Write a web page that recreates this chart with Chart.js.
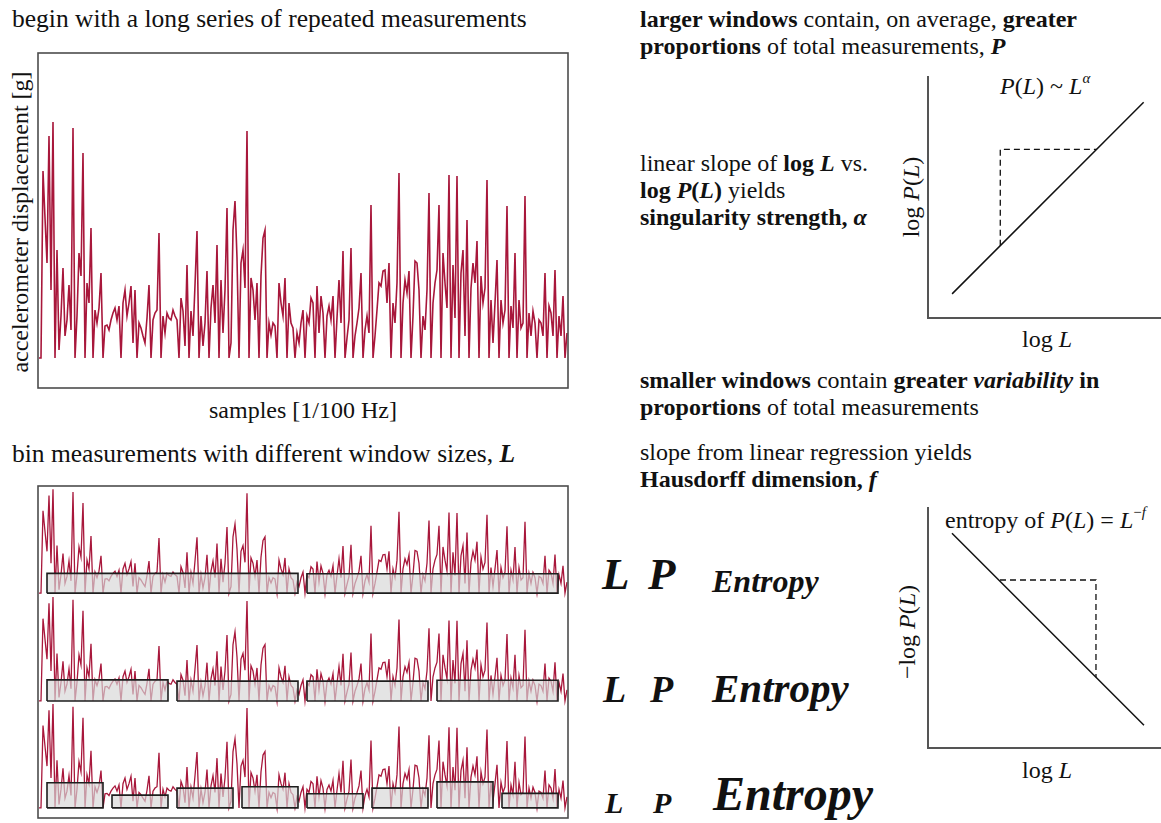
<!DOCTYPE html>
<html>
<head>
<meta charset="utf-8">
<script src="https://cdn.jsdelivr.net/npm/chart.js@4.4.1/dist/chart.umd.min.js"></script>
<style>
  html, body { margin: 0; padding: 0; background: #fff; }
  #page { position: relative; width: 1161px; height: 823px; overflow: hidden;
          font-family: "Liberation Serif", "Times New Roman", serif; color: #111; }
  .txt { position: absolute; font-size: 24px; line-height: 27px; white-space: nowrap; }
  .head { font-size: 25.5px; }
  .rot { position: absolute; font-size: 24px; line-height: 27px; white-space: nowrap;
         transform: translate(-50%, -50%) rotate(-90deg); }
  .big { position: absolute; font-weight: bold; font-style: italic; line-height: 1; white-space: nowrap; }
  canvas { position: absolute; }
  sup { font-size: 0.62em; line-height: 0; vertical-align: 0.75em; }
</style>
</head>
<body>
<div id="page">
  <div class="txt head" style="left:12px; top:5px">begin with a long series of repeated measurements</div>
  <div class="rot" style="left:20px; top:222px">accelerometer displacement [g]</div>
  <div class="txt" style="left:303px; top:397px; transform:translateX(-50%)">samples [1/100 Hz]</div>
  <div class="txt head" style="left:12px; top:440px">bin measurements with different window sizes, <b><i>L</i></b></div>

  <div class="txt" style="left:640px; top:6px"><b>larger windows</b> contain, on average, <b>greater</b><br><b>proportions</b> of total measurements, <b><i>P</i></b></div>
  <div class="txt" style="left:640px; top:150px">linear slope of <b>log <i>L</i></b> vs.<br><b>log <i>P</i>(<i>L</i>)</b> yields<br><b>singularity strength, <i>α</i></b></div>
  <div class="txt" style="left:640px; top:367px"><b>smaller windows</b> contain <b>greater <i>variability</i> in</b><br><b>proportions</b> of total measurements</div>
  <div class="txt" style="left:640px; top:439px">slope from linear regression yields<br><b>Hausdorff dimension, <i>f</i></b></div>

  <div class="txt" style="left:1000px; top:73px"><i>P</i>(<i>L</i>) ~ <i>L</i><sup><i>α</i></sup></div>
  <div class="rot" style="left:911px; top:197px">log <i>P</i>(<i>L</i>)</div>
  <div class="txt" style="left:1047px; top:326px; transform:translateX(-50%)">log <i>L</i></div>

  <div class="txt" style="left:945px; top:507px">entropy of <i>P</i>(<i>L</i>) = <i>L</i><sup>−<i>f</i></sup></div>
  <div class="rot" style="left:907px; top:632px">−log <i>P</i>(<i>L</i>)</div>
  <div class="txt" style="left:1047px; top:757px; transform:translateX(-50%)">log <i>L</i></div>

  <div class="big" style="left:602px; top:552px; font-size:45px">L</div>
  <div class="big" style="left:648px; top:552px; font-size:45px">P</div>
  <div class="big" style="left:712px; top:565px; font-size:32px">Entropy</div>
  <div class="big" style="left:603px; top:670px; font-size:38px">L</div>
  <div class="big" style="left:650px; top:670px; font-size:38px">P</div>
  <div class="big" style="left:712px; top:668px; font-size:41px">Entropy</div>
  <div class="big" style="left:605px; top:788px; font-size:30px">L</div>
  <div class="big" style="left:653px; top:788px; font-size:30px">P</div>
  <div class="big" style="left:713px; top:770px; font-size:48px">Entropy</div>

  <canvas id="series" width="534" height="339" style="left:36px; top:51px"></canvas>
  <canvas id="bins" width="534" height="336" style="left:36px; top:484px"></canvas>
  <canvas id="alpha" width="235" height="245" style="left:926px; top:75px"></canvas>
  <canvas id="hausdorff" width="235" height="244" style="left:926px; top:506px"></canvas>
</div>

<script>
// accelerometer displacement, one value per sample (arbitrary units)
const displacement = [
  0, 0, 187, 140, 95, 222, 68, 236, 0, 108, 8, 42, 90, 22, 38, 73, 28, 230, 0, 42,
  105, 82, 205, 0, 75, 55, 130, 0, 48, 35, 50, 85, 0, 32, 33, 28, 38, 45, 50, 38,
  52, 0, 55, 68, 42, 55, 72, 15, 68, 0, 35, 30, 22, 15, 40, 73, 0, 38, 45, 48,
  125, 0, 42, 25, 45, 40, 38, 48, 42, 38, 0, 60, 47, 12, 93, 0, 47, 22, 73, 127,
  0, 42, 12, 35, 87, 0, 50, 73, 35, 113, 0, 78, 25, 68, 150, 0, 15, 128, 157, 100,
  0, 95, 108, 70, 227, 0, 80, 68, 38, 75, 0, 82, 120, 128, 0, 35, 23, 35, 32, 0,
  75, 55, 42, 80, 0, 55, 35, 30, 0, 25, 15, 35, 48, 0, 42, 35, 60, 55, 0, 72,
  25, 62, 45, 0, 42, 52, 38, 62, 0, 40, 78, 35, 107, 0, 20, 38, 110, 0, 22, 35,
  50, 85, 0, 28, 42, 25, 153, 0, 22, 48, 75, 72, 87, 88, 55, 95, 0, 55, 35, 75,
  185, 0, 55, 78, 65, 87, 0, 42, 97, 95, 68, 0, 42, 28, 68, 165, 0, 55, 75, 88,
  153, 0, 105, 75, 50, 183, 0, 93, 40, 182, 0, 85, 108, 22, 138, 0, 70, 95, 75, 117,
  0, 82, 55, 70, 178, 0, 58, 15, 55, 98, 0, 58, 35, 48, 152, 0, 52, 30, 105, 0,
  58, 30, 35, 162, 0, 45, 22, 47, 35, 0, 38, 35, 22, 85, 0, 52, 45, 22, 88, 0,
  42, 22, 62, 0, 25
];
const samples = displacement.map((v, i) => i);

// window sizes: number of windows per row and the proportion P of each window
const windowCounts = [2, 4, 8];
const windowP = [
  [45, 44],
  [48, 45, 45, 47],
  [57, 29, 45, 48, 32, 45, 59, 33]
];
const windowSpan = [4, 264];
const windowGap = 4.5;

// log-log sketches
const alphaLogL = [1, 8.95];
const alphaLogP = [1, 8.95];
const alphaStepL = [3, 3, 7];
const alphaStepP = [3, 7, 7];
const fLogL = [1, 9];
const fNegLogP = [8.95, 0.95];
const fStepL = [3, 7, 7];
const fStepP = [7, 7, 2.95];

const red = '#a8173b';
const pts = (xs, ys) => xs.map((x, i) => ({x: x, y: ys[i]}));

const frame = {
  id: 'frame',
  afterDraw(chart) {
    const {ctx, chartArea: a} = chart;
    ctx.save();
    ctx.strokeStyle = '#4d4d4d';
    ctx.lineWidth = 1.6;
    ctx.strokeRect(a.left, a.top, a.right - a.left, a.bottom - a.top);
    ctx.restore();
  }
};

const base = {
  animation: false,
  responsive: false,
  plugins: { legend: { display: false }, tooltip: { enabled: false } },
  elements: { point: { radius: 0 }, line: { tension: 0 } }
};

new Chart(document.getElementById('series'), {
  type: 'line',
  data: {
    datasets: [{
      data: pts(samples, displacement),
      borderColor: red,
      borderWidth: 1.6,
      fill: false
    }]
  },
  options: {
    ...base,
    layout: { padding: 2 },
    scales: {
      x: { type: 'linear', display: false, min: -0.5, max: 264.5 },
      y: { display: false, min: -30, max: 305 }
    }
  },
  plugins: [frame]
});

// three strips, each with its own y axis so the copies sit one above the other
const stripAxes = ['y1', 'y2', 'y3'];
const binSets = [];
stripAxes.forEach((ax, r) => {
  binSets.push({
    data: pts(samples, displacement),
    yAxisID: ax,
    borderColor: red,
    borderWidth: 1.3,
    fill: false,
    order: 1
  });
  const n = windowCounts[r];
  const w = (windowSpan[1] - windowSpan[0]) / n;
  windowP[r].forEach((p, k) => {
    const s = windowSpan[0] + k * w;
    const e = s + w - windowGap;
    binSets.push({
      data: pts([s, s, e, e, s], [0, p, p, 0, 0]),
      yAxisID: ax,
      borderColor: '#1e1e1e',
      borderWidth: 1.6,
      backgroundColor: 'rgba(215,215,215,0.68)',
      fill: 'shape',
      order: 0
    });
  });
});

new Chart(document.getElementById('bins'), {
  type: 'line',
  data: { datasets: binSets },
  options: {
    ...base,
    layout: { padding: 2 },
    scales: {
      x: { type: 'linear', display: false, min: -0.5, max: 264.5 },
      y1: { display: false, min: -511, max: 243.5 },
      y2: { display: false, min: -266, max: 488.5 },
      y3: { display: false, min: -23, max: 731.5 }
    }
  },
  plugins: [frame]
});

function slopeChart(id, lx, ly, sx, sy, xmax) {
  const axis = (min, max) => ({
    type: 'linear', min: min, max: max,
    ticks: { display: false },
    grid: { display: false, drawTicks: false },
    border: { display: true, color: '#555', width: 2 }
  });
  return new Chart(document.getElementById(id), {
    type: 'line',
    data: {
      datasets: [
        { data: pts(lx, ly), borderColor: '#111', borderWidth: 1.5, fill: false },
        { data: pts(sx, sy), borderColor: '#111', borderWidth: 1.3, borderDash: [6, 4], fill: false }
      ]
    },
    options: {
      ...base,
      layout: { padding: { left: 2, top: 2, right: 0, bottom: 2 } },
      scales: { x: axis(0, xmax), y: axis(0, 10) }
    }
  });
}

slopeChart('alpha', alphaLogL, alphaLogP, alphaStepL, alphaStepP, 9.67);
slopeChart('hausdorff', fLogL, fNegLogP, fStepL, fStepP, 9.71);
</script>
</body>
</html>
